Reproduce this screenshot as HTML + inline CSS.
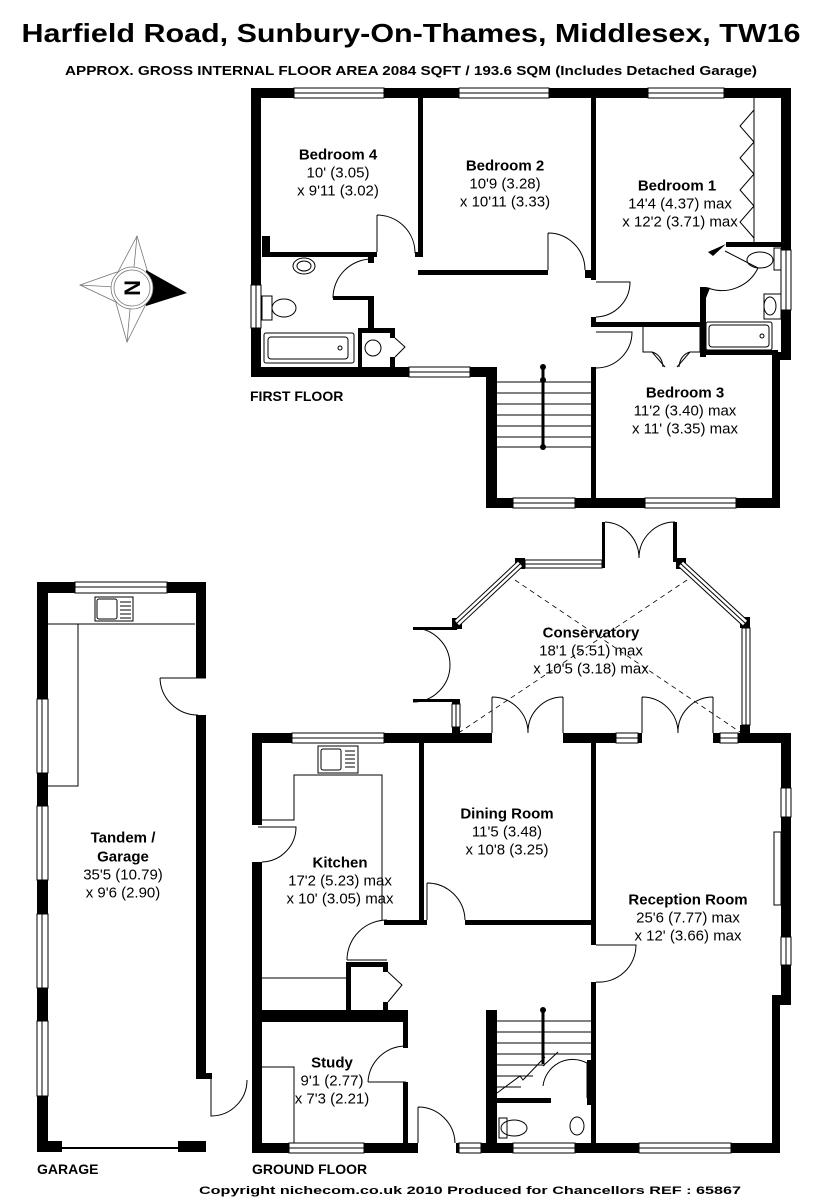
<!DOCTYPE html>
<html><head><meta charset="utf-8"><style>
html,body{margin:0;padding:0;background:#fff;}
svg{display:block;font-family:"Liberation Sans",Arial,sans-serif;}
.n{font-weight:bold;font-size:15px;}
.d{font-size:15px;}
.th{fill:none;stroke:#000;stroke-width:1;}
.win{fill:#fff;stroke:#000;stroke-width:1;}
</style></head><body>
<svg width="822" height="1200" viewBox="0 0 822 1200" xmlns="http://www.w3.org/2000/svg">
<rect width="822" height="1200" fill="#fff"/>
<text x="411" y="42" text-anchor="middle" font-weight="bold" font-size="26" textLength="779" lengthAdjust="spacingAndGlyphs">Harfield Road, Sunbury-On-Thames, Middlesex, TW16</text>
<text x="411" y="75" text-anchor="middle" font-weight="bold" font-size="13" textLength="692" lengthAdjust="spacingAndGlyphs">APPROX. GROSS INTERNAL FLOOR AREA 2084 SQFT / 193.6 SQM (Includes Detached Garage)</text>

<!-- ================= FIRST FLOOR ================= -->
<g fill="#000">
<rect x="251" y="88" width="540" height="10"/>
<rect x="251" y="88" width="10" height="289"/>
<rect x="251" y="367" width="235" height="10"/>
<rect x="486" y="367" width="11" height="141"/>
<rect x="486" y="498" width="294" height="10"/>
<rect x="781" y="88" width="10" height="272"/>
<rect x="772" y="352" width="19" height="8"/>
<rect x="772" y="352" width="8" height="156"/>
<rect x="418" y="98" width="5" height="159"/>
<rect x="262" y="252" width="115" height="5"/>
<rect x="262" y="236" width="8" height="20"/>
<rect x="415" y="252" width="8" height="5"/>
<rect x="418" y="270" width="130" height="5"/>
<rect x="585" y="270" width="11" height="8"/>
<rect x="591" y="98" width="5" height="182"/>
<rect x="591" y="317" width="5" height="10"/>
<rect x="591" y="322" width="109" height="5"/>
<rect x="591" y="367" width="5" height="141"/>
<rect x="726" y="242" width="57" height="5"/>
<rect x="700" y="287" width="6" height="70"/>
<rect x="706" y="350" width="72" height="5"/>
<rect x="368" y="257" width="6" height="6"/>
<rect x="368" y="296" width="6" height="33"/>
<rect x="333" y="296" width="41" height="4"/>
<rect x="358" y="328" width="37" height="5"/>
<rect x="358" y="328" width="4" height="40"/>
<rect x="390" y="328" width="5" height="10"/>
<rect x="390" y="357" width="5" height="10"/>
</g>
<path d="M726,244 L708,252 L713,256 Z M706,287 L702,297 L706,298 L710,288 Z" fill="#000"/>
<g class="win">
<rect x="294" y="88" width="90" height="10"/><line x1="294" y1="93" x2="384" y2="93"/>
<rect x="459" y="88" width="90" height="10"/><line x1="459" y1="93" x2="549" y2="93"/>
<rect x="648" y="88" width="76" height="10"/><line x1="648" y1="93" x2="724" y2="93"/>
<rect x="251" y="285" width="10" height="43"/><line x1="256" y1="285" x2="256" y2="328"/>
<rect x="409" y="367" width="61" height="10"/><line x1="409" y1="372" x2="470" y2="372"/>
<rect x="513" y="498" width="62" height="10"/><line x1="513" y1="503" x2="575" y2="503"/>
<rect x="645" y="498" width="91" height="10"/><line x1="645" y1="503" x2="736" y2="503"/>
<rect x="781" y="250" width="10" height="60"/><line x1="786" y1="250" x2="786" y2="310"/>
</g>
<g class="th">
<path d="M377,215 L377,252 M377,215 A38 38 0 0 1 415,253"/>
<path d="M548,233 L548,270 M548,233 A37 37 0 0 1 585,270"/>
<path d="M596,282 L630,282 A35 35 0 0 1 596,317"/>
<path d="M596,332 L632,332 A36 36 0 0 1 596,368"/>
<path d="M333,298 A39 39 0 0 1 372,259"/>
<path d="M725,251 L758,268 M758,268 A40 40 0 0 1 708,288"/>
<path d="M395,338 L405,347 L395,357"/>
<path d="M643,327 L643,352 L652,352 L665,367 M700,327 L700,352 L690,352 L677,367"/>
<path d="M652,352 Q662,355 663,367 M690,352 Q680,355 679,367"/>
<path d="M754,98 L754,242"/>
<path d="M754,110 L740,126 L754,142 L740,158 L754,174 L740,190 L754,206 L740,222 L754,238"/>
<rect x="264" y="333" width="90" height="30" rx="2"/><rect x="268" y="337" width="80" height="22" rx="3"/><circle cx="340" cy="348" r="2"/>
<rect x="262" y="296" width="10" height="24"/><ellipse cx="284" cy="308" rx="12" ry="9"/>
<ellipse cx="304" cy="266" rx="11" ry="8"/><ellipse cx="304" cy="266" rx="7" ry="5"/>
<circle cx="373" cy="348" r="8"/>
<rect x="774" y="248" width="7" height="22"/><ellipse cx="760" cy="260" rx="13" ry="8"/>
<rect x="764" y="294" width="17" height="25"/><ellipse cx="770" cy="306" rx="6" ry="9"/>
<rect x="706" y="322" width="66" height="28" rx="2"/><rect x="709" y="325" width="60" height="22" rx="3"/><circle cx="762" cy="336" r="2"/>
<path d="M497,382 L591,382 M497,393 L591,393 M497,404 L591,404 M497,415 L591,415 M497,426 L591,426 M497,437 L591,437 M497,447 L591,447"/>
</g>
<line x1="543" y1="367" x2="543" y2="447" stroke="#000" stroke-width="3"/>
<circle cx="543" cy="367" r="3"/><circle cx="543" cy="380" r="3"/><circle cx="543" cy="447" r="3"/>

<text x="250" y="401" font-weight="bold" font-size="14">FIRST FLOOR</text>
<g text-anchor="middle" dominant-baseline="central">
<text class="n" x="338" y="155">Bedroom 4</text><text class="d" x="338" y="173">10' (3.05)</text><text class="d" x="338" y="191">x 9'11 (3.02)</text>
<text class="n" x="505" y="166">Bedroom 2</text><text class="d" x="505" y="184">10'9 (3.28)</text><text class="d" x="505" y="202">x 10'11 (3.33)</text>
<text class="n" x="677" y="186">Bedroom 1</text><text class="d" x="680" y="204">14'4 (4.37) max</text><text class="d" x="680" y="222">x 12'2 (3.71) max</text>
<text class="n" x="685" y="393">Bedroom 3</text><text class="d" x="685" y="411">11'2 (3.40) max</text><text class="d" x="685" y="429">x 11' (3.35) max</text>
</g>

<!-- compass -->
<g stroke="#777" stroke-width="0.8" fill="#fff">
<polygon points="137,236 148,273 132,288 118,272"/>
<polygon points="127,342 116,303 132,288 146,304"/>
<polygon points="80,285 117,272 132,288 118,303"/>
<line x1="137" y1="236" x2="132" y2="288"/><line x1="127" y1="342" x2="132" y2="288"/><line x1="80" y1="285" x2="132" y2="288"/>
</g>
<polygon points="146,270 187,293 146,306" fill="#000"/>
<circle cx="132" cy="288" r="21" fill="#fff" stroke="#777" stroke-width="0.8"/>
<circle cx="132" cy="288" r="18" fill="#fff" stroke="#777" stroke-width="0.8"/>
<text x="132" y="288" font-weight="bold" font-size="22" text-anchor="middle" dominant-baseline="central" transform="rotate(90 132 288)">N</text>

<!-- ================= CONSERVATORY ================= -->
<g fill="#000">
<rect x="602" y="522" width="3" height="46"/>
<rect x="673" y="522" width="4" height="40"/>
<rect x="515" y="558" width="10" height="11"/>
<rect x="676" y="558" width="10" height="11"/>
<rect x="452" y="618" width="10" height="11"/>
<rect x="740" y="617" width="10" height="11"/>
<rect x="413" y="627" width="44" height="3"/>
<rect x="413" y="699" width="40" height="3"/>
<rect x="452" y="699" width="8" height="5"/>
<rect x="452" y="727" width="8" height="8"/>
<rect x="740" y="725" width="10" height="10"/>
</g>
<line x1="520" y1="564" x2="457" y2="623" stroke="#000" stroke-width="8"/>
<line x1="520" y1="564" x2="457" y2="623" stroke="#fff" stroke-width="6"/>
<line x1="520" y1="564" x2="457" y2="623" stroke="#000" stroke-width="1"/>
<line x1="681" y1="564" x2="745" y2="623" stroke="#000" stroke-width="8"/>
<line x1="681" y1="564" x2="745" y2="623" stroke="#fff" stroke-width="6"/>
<line x1="681" y1="564" x2="745" y2="623" stroke="#000" stroke-width="1"/>
<g class="win">
<rect x="525" y="560" width="77" height="8"/><line x1="525" y1="564" x2="602" y2="564"/>
<rect x="742" y="628" width="8" height="97"/><line x1="746" y1="628" x2="746" y2="725"/>
<rect x="452" y="704" width="8" height="23"/><line x1="456" y1="704" x2="456" y2="727"/>
</g>
<g class="th">
<path d="M605,522 A36 36 0 0 1 639,558 M675,522 A36 36 0 0 0 639,558"/>
<path d="M413,628 A37 37 0 0 1 450,665 A37 37 0 0 1 413,702"/>
<path d="M515,580 L740,732 M687,580 L460,732" stroke-dasharray="5,4" stroke-width="0.8"/>
</g>

<!-- ================= GROUND FLOOR ================= -->
<g fill="#000">
<rect x="252" y="733" width="240" height="10"/>
<rect x="563" y="733" width="228" height="10"/>
<rect x="252" y="733" width="10" height="92"/>
<rect x="252" y="862" width="10" height="291"/>
<rect x="419" y="743" width="5" height="179"/>
<rect x="419" y="920" width="8" height="5"/>
<rect x="465" y="920" width="126" height="5"/>
<rect x="591" y="743" width="5" height="202"/>
<rect x="591" y="982" width="5" height="171"/>
<rect x="781" y="733" width="10" height="267"/>
<rect x="772" y="995" width="19" height="10"/>
<rect x="772" y="995" width="8" height="158"/>
<rect x="252" y="1143" width="166" height="10"/>
<rect x="456" y="1143" width="324" height="10"/>
<rect x="384" y="920" width="40" height="5"/>
<rect x="346" y="962" width="41" height="5"/>
<rect x="346" y="962" width="5" height="48"/>
<rect x="383" y="962" width="5" height="10"/>
<rect x="383" y="1002" width="5" height="10"/>
<rect x="252" y="1010" width="155" height="12"/>
<rect x="403" y="1010" width="5" height="38"/>
<rect x="403" y="1082" width="5" height="71"/>
<rect x="486" y="1010" width="11" height="143"/>
<rect x="497" y="1098" width="54" height="5"/>
<rect x="587" y="1060" width="4" height="45"/>
</g>
<g class="win">
<rect x="292" y="733" width="92" height="10"/><line x1="292" y1="738" x2="384" y2="738"/>
<rect x="616" y="733" width="22" height="10"/><line x1="616" y1="738" x2="638" y2="738"/>
<rect x="720" y="733" width="18" height="10"/><line x1="720" y1="738" x2="738" y2="738"/>
<rect x="289" y="1143" width="75" height="10"/><line x1="289" y1="1148" x2="364" y2="1148"/>
<rect x="459" y="1143" width="22" height="10"/><line x1="459" y1="1148" x2="481" y2="1148"/>
<rect x="513" y="1143" width="62" height="10"/><line x1="513" y1="1148" x2="575" y2="1148"/>
<rect x="639" y="1143" width="92" height="10"/><line x1="639" y1="1148" x2="731" y2="1148"/>
<rect x="781" y="788" width="10" height="29"/><line x1="786" y1="788" x2="786" y2="817"/>
<rect x="781" y="937" width="10" height="28"/><line x1="786" y1="937" x2="786" y2="965"/>
</g>
<rect x="492" y="733" width="71" height="10" fill="#fff"/>
<rect x="642" y="733" width="71" height="10" fill="#fff"/>
<g class="th">
<path d="M492,697 L492,733 M563,697 L563,733 M492,697 A36 36 0 0 1 528,733 M563,697 A35 35 0 0 0 528,733"/>
<path d="M642,697 L642,733 M713,697 L713,733 M642,697 A36 36 0 0 1 678,733 M713,697 A35 35 0 0 0 678,733"/>
<path d="M258,827 L296,827 A35 35 0 0 1 262,862"/>
<path d="M347,960 L387,960 M347,960 A40 40 0 0 1 387,920"/>
<path d="M427,883 L427,920 M427,883 A38 38 0 0 1 465,920"/>
<path d="M596,945 L636,945 A37 37 0 0 1 596,982"/>
<path d="M368,1082 L406,1082 M368,1082 A38 38 0 0 1 406,1046"/>
<path d="M418,1107 L418,1143 M418,1107 A37 37 0 0 1 455,1143"/>
<path d="M388,972 L402,985 L388,1002"/>
<rect x="318" y="746" width="40" height="27"/><rect x="321" y="749" width="20" height="21" rx="2"/>
<path d="M345,751 L355,751 M345,755 L355,755 M345,759 L355,759 M345,763 L355,763 M345,767 L355,767"/>
<path d="M262,820 L294,820 L294,775 L382,775 L382,920"/>
<path d="M262,978 L346,978"/>
<path d="M262,1067 L294,1067 L294,1143"/>
<rect x="774" y="832" width="7" height="73"/>
<path d="M497,1021 L591,1021 M497,1032 L591,1032 M497,1043 L591,1043 M497,1054 L591,1054 M497,1065 L545,1065 M497,1076 L533,1076 M497,1087 L521,1087"/>
<path d="M497,1093 L520,1076 L523,1080 L545,1057"/>
<path d="M543,1066 L558,1052 M543,1086 A30 30 0 0 1 587,1063 M587,1063 L587,1098"/>
<rect x="499" y="1118" width="8" height="20"/><ellipse cx="514" cy="1128" rx="13" ry="8"/>
<ellipse cx="577" cy="1126" rx="7" ry="9"/>
</g>
<line x1="543" y1="1010" x2="543" y2="1064" stroke="#000" stroke-width="3"/>
<circle cx="543" cy="1010" r="3"/>

<text x="252" y="1174" font-weight="bold" font-size="14">GROUND FLOOR</text>
<g text-anchor="middle" dominant-baseline="central">
<text class="n" x="591" y="633">Conservatory</text><text class="d" x="591" y="651">18'1 (5.51) max</text><text class="d" x="591" y="669">x 10'5 (3.18) max</text>
<text class="n" x="507" y="814">Dining Room</text><text class="d" x="507" y="832">11'5 (3.48)</text><text class="d" x="507" y="850">x 10'8 (3.25)</text>
<text class="n" x="340" y="863">Kitchen</text><text class="d" x="340" y="881">17'2 (5.23) max</text><text class="d" x="340" y="899">x 10' (3.05) max</text>
<text class="n" x="688" y="900">Reception Room</text><text class="d" x="688" y="918">25'6 (7.77) max</text><text class="d" x="688" y="936">x 12' (3.66) max</text>
<text class="n" x="332" y="1063">Study</text><text class="d" x="332" y="1081">9'1 (2.77)</text><text class="d" x="332" y="1099">x 7'3 (2.21)</text>
<text class="n" x="123" y="838">Tandem /</text><text class="n" x="123" y="857">Garage</text><text class="d" x="123" y="875">35'5 (10.79)</text><text class="d" x="123" y="893">x 9'6 (2.90)</text>
</g>

<!-- ================= GARAGE ================= -->
<g fill="#000">
<rect x="37" y="582" width="169" height="11"/>
<rect x="37" y="582" width="11" height="570"/>
<rect x="196" y="582" width="10" height="96"/>
<rect x="196" y="715" width="10" height="358"/>
<rect x="196" y="1073" width="16" height="6"/>
<rect x="37" y="1141" width="25" height="11"/>
<rect x="178" y="1141" width="28" height="11"/>
</g>
<g class="win">
<rect x="75" y="582" width="92" height="11"/><line x1="75" y1="587" x2="167" y2="587"/>
<rect x="37" y="699" width="11" height="74"/><line x1="42" y1="699" x2="42" y2="773"/>
<rect x="37" y="806" width="11" height="74"/><line x1="42" y1="806" x2="42" y2="880"/>
<rect x="37" y="914" width="11" height="74"/><line x1="42" y1="914" x2="42" y2="988"/>
<rect x="37" y="1021" width="11" height="75"/><line x1="42" y1="1021" x2="42" y2="1096"/>
</g>
<g class="th">
<line x1="62" y1="1148" x2="178" y2="1148" stroke-width="2"/>
<path d="M160,678 L206,678 M160,678 A38 38 0 0 0 198,715"/>
<path d="M48,624 L195,624 M78,624 L78,786 L48,786"/>
<rect x="95" y="597" width="38" height="24"/><rect x="97" y="599" width="20" height="20" rx="2"/>
<path d="M120,602 L131,602 M120,606 L131,606 M120,610 L131,610 M120,614 L131,614 M120,618 L131,618"/>
<path d="M211,1079 L211,1116 A36 36 0 0 0 247,1080"/>
</g>
<text x="37" y="1174" font-weight="bold" font-size="14">GARAGE</text>

<text x="470" y="1194" text-anchor="middle" font-weight="bold" font-size="11" textLength="542" lengthAdjust="spacingAndGlyphs">Copyright nichecom.co.uk 2010     Produced for Chancellors     REF : 65867</text>
</svg>
</body></html>
